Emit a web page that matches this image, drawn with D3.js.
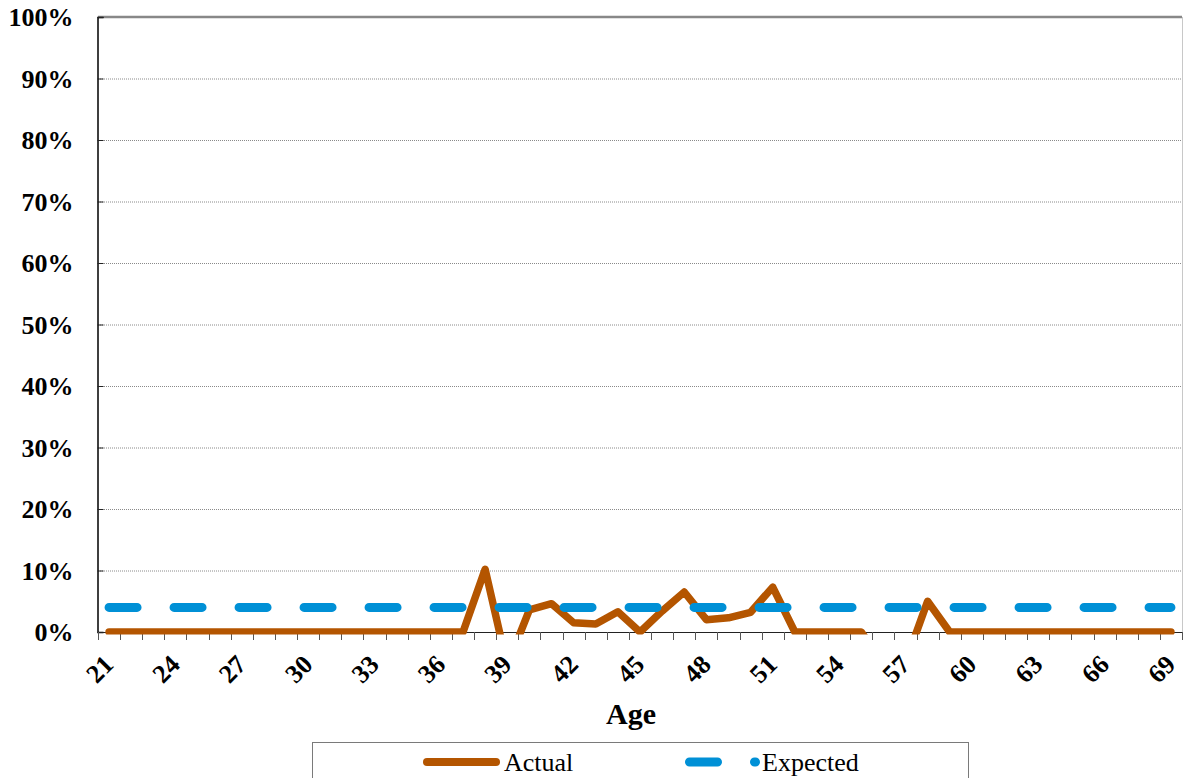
<!DOCTYPE html>
<html>
<head>
<meta charset="utf-8">
<script src="https://cdn.jsdelivr.net/npm/d3@7"></script>
<style>
  html, body { margin: 0; padding: 0; background: #fff; }
  svg { display: block; }
</style>
</head>
<body>
<svg id="chart" width="1183" height="778"></svg>
<script>
// Age categories on the x axis
const ages = [21,22,23,24,25,26,27,28,29,30,31,32,33,34,35,36,37,38,39,40,
              41,42,43,44,45,46,47,48,49,50,51,52,53,54,55,56,57,58,59,60,
              61,62,63,64,65,66,67,68,69];

// Actual rate by age (%)
const actual = [0,0,0,0,0,0,0,0,0,0,0,0,0,0,0,0,0,
                10.2,-5.5,3.6,4.6,1.5,1.3,3.3,0,3.4,6.5,2.0,2.3,3.2,7.3,
                0,0,0,0,-5,-5,5.0,
                0,0,0,0,0,0,0,0,0,0,0];

// Expected rate by age (%)
const expected = [4,4,4,4,4,4,4,4,4,4,4,4,4,4,4,4,4,4,4,4,
                  4,4,4,4,4,4,4,4,4,4,4,4,4,4,4,4,4,4,4,4,
                  4,4,4,4,4,4,4,4,4];

// Axis ticks
const yTicks = [0,10,20,30,40,50,60,70,80,90,100];
const xTickLabels = [21,24,27,30,33,36,39,42,45,48,51,54,57,60,63,66,69];

const seriesNames = ["Actual", "Expected"];
const colors = { actual: "#b45500", expected: "#0090d6" };

const svg = d3.select("#chart");
const serif = "'Liberation Serif', 'Times New Roman', serif";

const plot = { left: 98, right: 1182, top: 17, bottom: 632 };

const x = d3.scaleBand().domain(ages).range([plot.left, plot.right]).paddingInner(0).paddingOuter(0);
const cx = a => x(a) + x.bandwidth() / 2;
const y = d3.scaleLinear().domain([0, 100]).range([plot.bottom, plot.top]);

// Horizontal dotted gridlines
svg.append("g")
  .selectAll("line")
  .data(yTicks.filter(v => v > 0 && v < 100))
  .join("line")
  .attr("x1", plot.left).attr("x2", plot.right)
  .attr("y1", d => y(d) + 0.5).attr("y2", d => y(d) + 0.5)
  .attr("stroke", "#8a8a8a")
  .attr("stroke-width", 1)
  .attr("stroke-dasharray", "1,1");

// Plot area border: top and right
svg.append("line")
  .attr("x1", plot.left).attr("x2", plot.right)
  .attr("y1", y(100)).attr("y2", y(100))
  .attr("stroke", "#888").attr("stroke-width", 2.5);
svg.append("line")
  .attr("x1", plot.right + 0.5).attr("x2", plot.right + 0.5)
  .attr("y1", plot.top).attr("y2", plot.bottom)
  .attr("stroke", "#c8c8c8").attr("stroke-width", 1);

// Y axis
const yAxis = d3.axisLeft(y)
  .tickValues(yTicks)
  .tickSize(-6)
  .tickPadding(24)
  .tickFormat(d => d + "%");
const gy = svg.append("g")
  .attr("transform", `translate(${plot.left - 0.5},0)`)
  .call(yAxis);
gy.select(".domain").attr("stroke", "#000").attr("stroke-width", 1.5);
gy.selectAll(".tick line").attr("stroke", "#222");
gy.selectAll(".tick text")
  .attr("font-family", serif)
  .attr("font-weight", "bold")
  .attr("font-size", 26)
  .attr("fill", "#000")
  .attr("dy", "0.34em");

// X axis baseline and category boundary ticks
svg.append("line")
  .attr("x1", plot.left).attr("x2", plot.right)
  .attr("y1", plot.bottom + 0.5).attr("y2", plot.bottom + 0.5)
  .attr("stroke", "#222").attr("stroke-width", 1.2);
svg.append("g")
  .selectAll("line")
  .data(ages.map(a => x(a)).concat([plot.right]))
  .join("line")
  .attr("x1", d => Math.round(d) + 0.5).attr("x2", d => Math.round(d) + 0.5)
  .attr("y1", plot.bottom).attr("y2", plot.bottom + 8)
  .attr("stroke", "#555").attr("stroke-width", 1);

// X tick labels, rotated
const xAxis = d3.axisBottom(x).tickValues(xTickLabels).tickSize(0);
const gx = svg.append("g")
  .attr("transform", `translate(0,${plot.bottom})`)
  .call(xAxis);
gx.select(".domain").remove();
gx.selectAll(".tick text")
  .attr("font-family", serif)
  .attr("font-weight", "bold")
  .attr("font-size", 26)
  .attr("fill", "#000")
  .attr("text-anchor", "end")
  .attr("x", 0).attr("y", 0).attr("dy", 0)
  .attr("transform", "translate(6,34) rotate(-45)");

// X axis title
svg.append("text")
  .attr("x", 631).attr("y", 724)
  .attr("text-anchor", "middle")
  .attr("font-family", serif)
  .attr("font-weight", "bold")
  .attr("font-size", 30)
  .text("Age");

// Clip for the series lines
svg.append("defs").append("clipPath").attr("id", "plotClip")
  .append("rect")
  .attr("x", plot.left - 10).attr("y", 0)
  .attr("width", plot.right - plot.left + 20).attr("height", plot.bottom + 2.5);

const line = d3.line().x((d, i) => cx(ages[i])).y(d => y(d));

const series = svg.append("g").attr("clip-path", "url(#plotClip)");

series.append("path")
  .datum(actual)
  .attr("d", line)
  .attr("fill", "none")
  .attr("stroke", colors.actual)
  .attr("stroke-width", 7.5)
  .attr("stroke-linejoin", "round")
  .attr("stroke-linecap", "round");

series.append("path")
  .datum(expected)
  .attr("d", line)
  .attr("fill", "none")
  .attr("stroke", colors.expected)
  .attr("stroke-width", 9)
  .attr("stroke-dasharray", "28,37")
  .attr("stroke-linecap", "round");

// Legend
const legend = svg.append("g");
legend.append("rect")
  .attr("x", 312.5).attr("y", 742.5)
  .attr("width", 656).attr("height", 60)
  .attr("fill", "#fff")
  .attr("stroke", "#7a7a7a").attr("stroke-width", 1);

legend.append("line")
  .attr("x1", 427).attr("x2", 496)
  .attr("y1", 762).attr("y2", 762)
  .attr("stroke", colors.actual)
  .attr("stroke-width", 8)
  .attr("stroke-linecap", "round");
legend.append("text")
  .attr("x", 504).attr("y", 771)
  .attr("font-family", serif).attr("font-size", 26)
  .text(seriesNames[0]);

legend.append("line")
  .attr("x1", 689.5).attr("x2", 755.5)
  .attr("y1", 762).attr("y2", 762)
  .attr("stroke", colors.expected)
  .attr("stroke-width", 9)
  .attr("stroke-dasharray", "28,37")
  .attr("stroke-linecap", "round");
legend.append("text")
  .attr("x", 762).attr("y", 771)
  .attr("font-family", serif).attr("font-size", 26)
  .text(seriesNames[1]);
</script>
</body>
</html>
